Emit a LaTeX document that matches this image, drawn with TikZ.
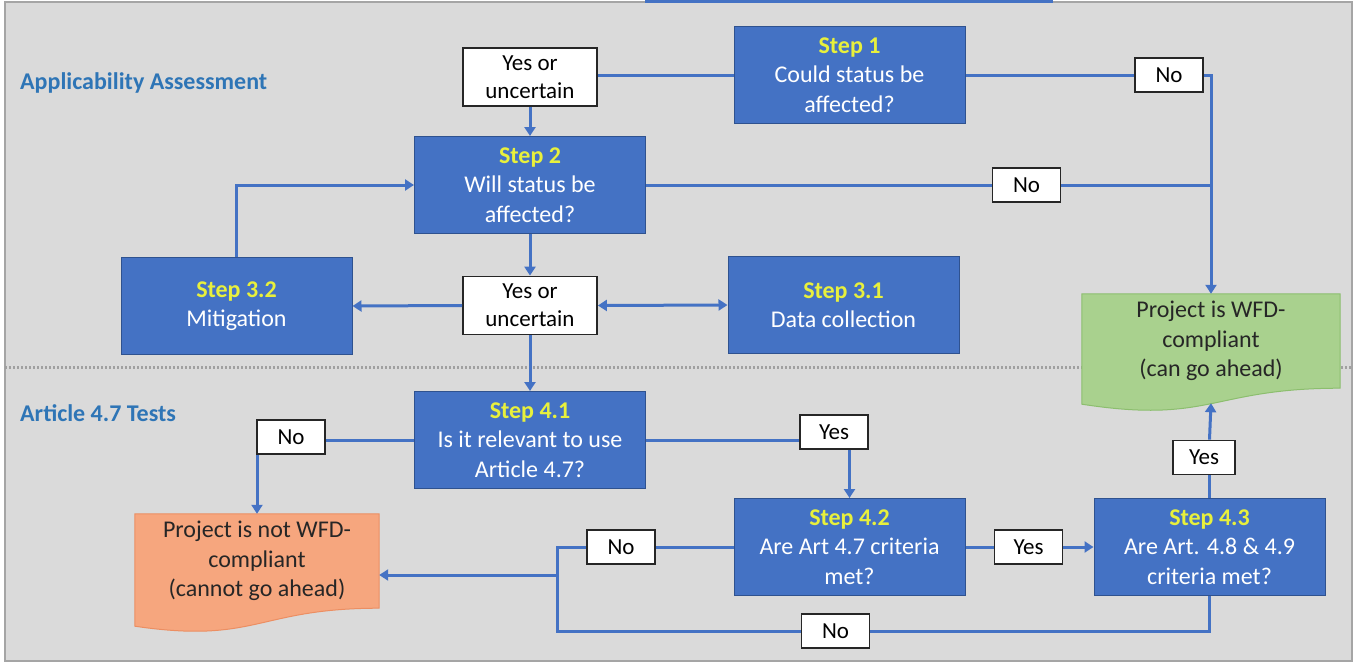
\documentclass[tikz,border=0pt]{standalone}
\usepackage{fontspec}
\setmainfont{Carlito}
\usetikzlibrary{arrows.meta,calc,backgrounds}

\definecolor{BoxBlue}{RGB}{68,114,196}
\definecolor{BoxEdge}{RGB}{47,82,143}
\definecolor{LinkBlue}{RGB}{68,114,196}
\definecolor{StepYellow}{RGB}{232,240,60}
\definecolor{HeadBlue}{RGB}{46,117,182}
\definecolor{PanelGrey}{RGB}{218,218,218}
\definecolor{FrameGrey}{RGB}{165,165,165}
\definecolor{DotGrey}{RGB}{160,160,160}
\definecolor{OkGreen}{RGB}{169,209,142}
\definecolor{OkEdge}{RGB}{140,190,110}
\definecolor{NotOrange}{RGB}{246,166,126}
\definecolor{NotEdge}{RGB}{236,142,98}

\newcommand{\stepno}[1]{{\color{StepYellow}\bfseries #1}}

\tikzset{
  stepbox/.style={rectangle, fill=BoxBlue, draw=BoxEdge, line width=1pt, text=white, align=center,
    minimum width=231pt, minimum height=97pt, inner sep=0pt, font=\fontsize{24}{29.5}\selectfont},
  labelbox/.style={rectangle, fill=white, draw=black!85, line width=1.8pt, align=center,
    minimum width=68pt, minimum height=34pt, inner sep=0pt, font=\fontsize{23}{28}\selectfont},
  docbox/.style={rectangle, align=center, text=black!85, minimum height=94pt, inner sep=0pt,
    font=\fontsize{24}{29.5}\selectfont},
  link/.style={draw=LinkBlue, line width=3pt},
  heading/.style={anchor=west, inner sep=0pt, text=HeadBlue, font=\fontsize{24}{29}\selectfont\bfseries},
}

\begin{document}
\begin{tikzpicture}[x=1pt, y=-1pt, >={Triangle[length=9pt,width=11pt]}]
\useasboundingbox (0,0) rectangle (1353,664);

% panel and divider
\begin{scope}[on background layer]
\fill[white] (0,0) rectangle (1353,664);
\draw[FrameGrey, line width=1.5pt, fill=PanelGrey] (5,2) rectangle (1352,661);
\fill[BoxBlue] (645,0) rectangle (1053,3);
\draw[DotGrey, line width=3pt, dash pattern=on 2pt off 2pt] (5,367) -- (1352,367);
\end{scope}

\node[heading] (applic) at (20,83) {Applicability Assessment};
\node[heading] (art47) at (20,413) {Article 4.7 Tests};

% steps
\node[stepbox] (s1) at (849.5,75) {\stepno{Step 1}\\Could status be\\affected?};
\node[stepbox] (s2) at (530,185) {\stepno{Step 2}\\Will status be\\affected?};
\node[stepbox] (s32) at (236.5,306) {\stepno{Step 3.2}\\Mitigation};
\node[stepbox] (s31) at (843.5,305) {\stepno{Step 3.1}\\Data collection};
\node[stepbox] (s41) at (530,440) {\stepno{Step 4.1}\\Is it relevant to use\\Article 4.7?};
\node[stepbox] (s42) at (849.5,547) {\stepno{Step 4.2}\\Are Art 4.7 criteria\\met?};
\node[stepbox] (s43) at (1209.5,547) {\stepno{Step 4.3}\\Are Art. 4.8 \& 4.9\\criteria met?};

% outcomes
\node[docbox, minimum width=258pt] (ok) at (1211,341) {Project is WFD-\\compliant\\(can go ahead)};
\node[docbox, minimum width=244pt] (notok) at (257,561) {Project is not WFD-\\compliant\\(cannot go ahead)};
\coordinate (okfoot) at ($(ok.south)+(0pt,-15pt)$);

% answers
\node[labelbox, minimum width=134pt, minimum height=58pt] (yu1) at (530,77) {Yes or\\uncertain};
\node[labelbox, minimum width=134pt, minimum height=58pt] (yu2) at (530,305.5) {Yes or\\uncertain};
\node[labelbox] (no1) at (1169,75) {No};
\node[labelbox] (no2) at (1026.5,185) {No};
\node[labelbox] (no41) at (291,437) {No};
\node[labelbox] (yes41) at (834,432) {Yes};
\node[labelbox, minimum width=62pt] (yes43) at (1204,457.5) {Yes};
\node[labelbox] (yes42) at (1028.5,547) {Yes};
\node[labelbox] (no42) at (621,547) {No};
\node[labelbox] (no43) at (835.5,631) {No};

\coordinate (jtop) at (557,547);
\coordinate (jmid) at (557,575);
\coordinate (jbot) at (557,631);

% connectors
\draw[link] (s1.west) -- (s1.west -| yu1.east);
\draw[link, ->] (yu1.south) -- (s2.north);
\draw[link] (s1.east) -- (no1.west);
\draw[link, ->] (no1.east) -| (ok.north);
\draw[link] (s2.east) -- (no2.west);
\draw[link] (no2.east) -- (no2.east -| ok.north);
\draw[link, ->] (s2.south) -- (yu2.north);
\draw[link, ->] (yu2.west) -- (s32.east);
\draw[link, <->] (yu2.east) -- (s31.west);
\draw[link, ->] (s32.north) |- (s2.west);
\draw[link, ->] (yu2.south) -- (s41.north);
\draw[link] (s41.west) -- (s41.west -| no41.east);
\draw[link, ->] (no41.south -| notok.north) -- (notok.north);
\draw[link] (s41.east) -- (s41.east -| yes41.west);
\draw[link, ->] (yes41.south -| s42.north) -- (s42.north);
\draw[link] (s42.east) -- (yes42.west);
\draw[link, ->] (yes42.east) -- (s43.west);
\draw[link] (s43.north) -- (yes43.south -| s43.north);
\draw[link, ->] (yes43.north -| s43.north) -- (okfoot);
\draw[link] (s42.west) -- (no42.east);
\draw[link] (no42.west) -- (jtop) -- (jbot) -- (no43.west);
\draw[link] (no43.east) -| (s43.south);
\draw[link, ->] (jmid) -- (jmid -| notok.east);

% document outlines
\begin{scope}[on background layer]
\filldraw[fill=OkGreen, draw=OkEdge, line width=1pt] (ok.north west) -- (ok.north east) -- (ok.south east)
  .. controls (ok.south) and ($(ok.south)+(0pt,-36pt)$) .. ($(ok.south west)+(0pt,-16pt)$) -- cycle;
\filldraw[fill=NotOrange, draw=NotEdge, line width=1pt] (notok.north west) -- (notok.north east) -- (notok.south east)
  .. controls (notok.south) and ($(notok.south)+(0pt,-36pt)$) .. ($(notok.south west)+(0pt,-18pt)$) -- cycle;
\end{scope}

\end{tikzpicture}
\end{document}
